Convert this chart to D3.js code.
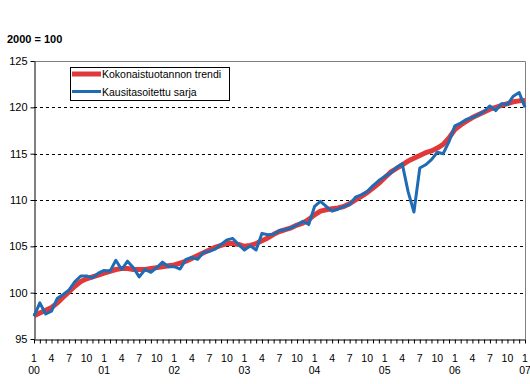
<!DOCTYPE html>
<html><head><meta charset="utf-8">
<script src="https://cdn.jsdelivr.net/npm/d3@7"></script>
<style>body{margin:0;background:#fff}svg{display:block}text{font-family:"Liberation Sans",Arial,sans-serif}</style>
</head><body><svg id="c" width="530" height="384"></svg>
<script>
const months = d3.range(0, 85); // Jan 2000 .. Jan 2007
const trend = [97.5,97.8,98.1,98.4,98.9,99.5,100.1,100.7,101.2,101.5,101.7,101.9,
102.1,102.3,102.5,102.6,102.6,102.5,102.5,102.5,102.6,102.7,102.8,102.9,
103.0,103.2,103.4,103.7,104.0,104.3,104.6,104.9,105.1,105.3,105.3,105.2,
105.0,105.1,105.3,105.6,105.9,106.3,106.6,106.8,107.0,107.3,107.5,107.9,
108.4,108.8,108.95,109.05,109.15,109.3,109.6,110.0,110.4,110.8,111.3,111.8,
112.4,113.0,113.4,113.8,114.2,114.5,114.8,115.1,115.3,115.6,116.0,116.7,
117.6,118.1,118.5,118.9,119.2,119.5,119.8,120.0,120.2,120.4,120.6,120.7,
120.75];
const seasonal = [97.45,98.9,97.7,98.0,99.4,99.8,100.3,101.2,101.8,101.8,101.6,102.1,
102.4,102.3,103.5,102.5,103.4,102.7,101.7,102.5,102.2,102.7,103.3,102.8,
102.8,102.55,103.6,103.8,103.6,104.35,104.45,104.7,105.2,105.7,105.85,105.2,
104.6,105.05,104.6,106.4,106.25,106.3,106.7,106.8,107.0,107.3,107.7,107.35,
109.3,109.85,109.3,108.8,109.0,109.3,109.5,110.3,110.55,110.9,111.55,112.1,
112.55,112.9,113.5,113.9,110.9,108.7,113.45,113.8,114.35,115.15,115.0,116.3,
118.0,118.3,118.7,118.9,119.2,119.55,120.15,119.65,120.4,120.3,121.2,121.6,
120.0];
const yTicks = [95,100,105,110,115,120,125];
const monthLabels = [1,4,7,10];
const yearLabels = ["00","01","02","03","04","05","06","07"];
const seriesNames = ["Kokonaistuotannon trendi","Kausitasoitettu sarja"];
const colors = ["#e0393b","#1f6cb4"];

const svg = d3.select("#c");
const L=34,R=525,T=61,B=339;
const x = d3.scaleLinear().domain([0,84]).range([L,R]);
const y = d3.scaleLinear().domain([95,125]).range([B,T]);

svg.append("text").attr("x",7).attr("y",43).attr("font-size",11).attr("font-weight","bold").text("2000 = 100");

// gridlines
svg.append("g").selectAll("line").data(yTicks.filter(v=>v>95&&v<125)).join("line")
  .attr("x1",L).attr("x2",R).attr("y1",d=>Math.round(y(d))+0.5).attr("y2",d=>Math.round(y(d))+0.5)
  .attr("stroke","#000").attr("stroke-dasharray","3,3");
// top and right border
svg.append("path").attr("d",`M${L},${T+0.5}H${R+0.5}V${B}`).attr("fill","none").attr("stroke","#808080");

// y axis
const ya = svg.append("g").attr("transform",`translate(${L+0.5},0)`)
  .call(d3.axisLeft(y).tickValues(yTicks).tickSize(4).tickSizeOuter(0).tickPadding(3));
ya.select(".domain").attr("stroke","#000");
ya.selectAll("text").attr("font-size",11).attr("font-family","Liberation Sans,Arial,sans-serif").attr("fill","#000");

// x axis
const xa = svg.append("g").attr("transform",`translate(0,${B+0.5})`)
  .call(d3.axisBottom(x).tickValues(months).tickSize(4).tickSizeOuter(0).tickFormat(""));
xa.select(".domain").attr("stroke","#000");
svg.append("g").selectAll("text").data(months.filter(m=>m%3===0)).join("text")
  .attr("x",d=>x(d)).attr("y",362).attr("text-anchor","middle").attr("font-size",10.5)
  .text(d=>monthLabels[(d%12)/3]);
svg.append("g").selectAll("text").data(months.filter(m=>m%12===0)).join("text")
  .attr("x",d=>x(d)).attr("y",374).attr("text-anchor","middle").attr("font-size",10.5)
  .text(d=>yearLabels[d/12]);

const line = d3.line().x((d,i)=>x(months[i])).y(d=>y(d));
svg.append("path").datum(trend).attr("d",line).attr("fill","none").attr("stroke",colors[0]).attr("stroke-width",5).attr("stroke-linejoin","round");
svg.append("path").datum(seasonal).attr("d",line).attr("fill","none").attr("stroke",colors[1]).attr("stroke-width",3).attr("stroke-linejoin","round");

// legend
const lg = svg.append("g");
lg.append("rect").attr("x",70.5).attr("y",67.5).attr("width",159).attr("height",33).attr("fill","#fff").attr("stroke","#000");
seriesNames.forEach((n,i)=>{
  const yy = 74 + i*17.5;
  lg.append("line").attr("x1",72).attr("x2",101).attr("y1",yy).attr("y2",yy).attr("stroke",colors[i]).attr("stroke-width",i?3:5);
  lg.append("text").attr("x",102).attr("y",yy+4).attr("font-size",10.5).text(n);
});
</script></body></html>
